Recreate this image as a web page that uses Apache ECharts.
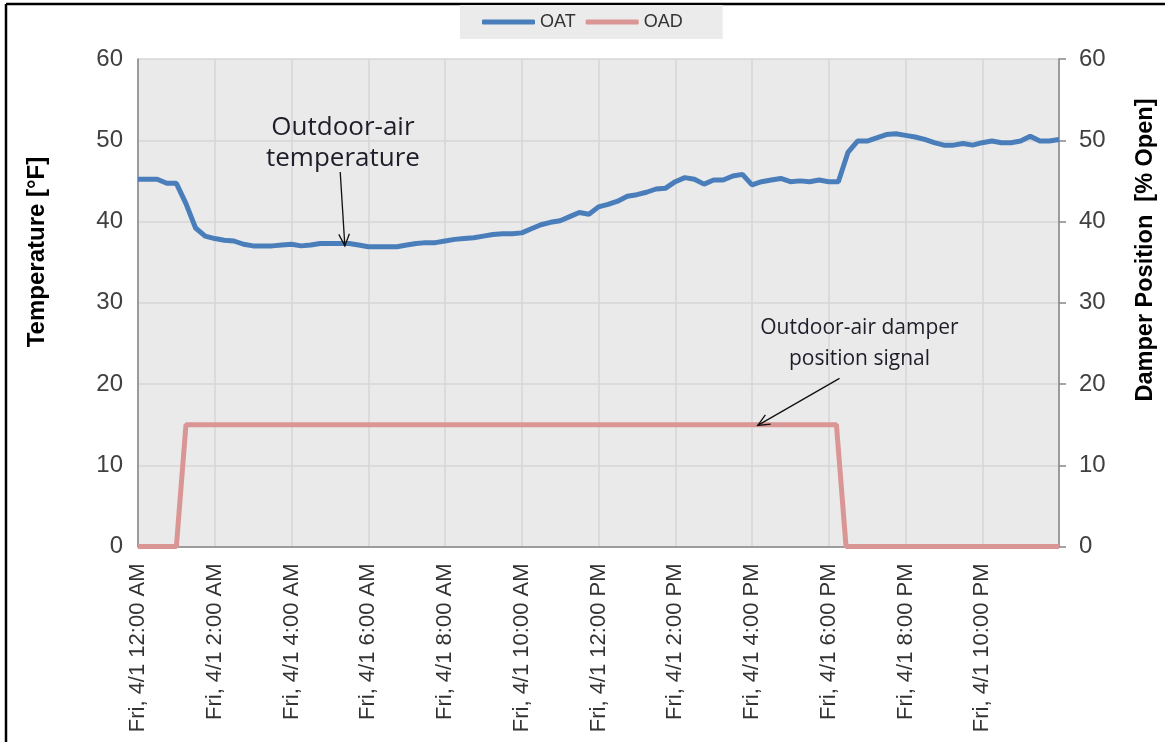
<!DOCTYPE html>
<html>
<head>
<meta charset="utf-8">
<script src="https://cdn.jsdelivr.net/npm/echarts@6/dist/echarts.min.js"></script>
<style>
  html, body { margin: 0; padding: 0; background: #fff; }
  #chart { width: 1165px; height: 742px; }
</style>
</head>
<body>
<div id="chart"></div>
<script>
// x tick labels, every 2 hours
var xLabels = [
  "Fri, 4/1 12:00 AM", "Fri, 4/1 2:00 AM", "Fri, 4/1 4:00 AM", "Fri, 4/1 6:00 AM",
  "Fri, 4/1 8:00 AM", "Fri, 4/1 10:00 AM", "Fri, 4/1 12:00 PM", "Fri, 4/1 2:00 PM",
  "Fri, 4/1 4:00 PM", "Fri, 4/1 6:00 PM", "Fri, 4/1 8:00 PM", "Fri, 4/1 10:00 PM"
];

// outdoor-air temperature, one reading every 15 minutes from 12:00 AM
var oat = [
  45.2, 45.2, 45.2, 44.7, 44.7, 42.2, 39.2, 38.2, 37.9, 37.7,
  37.6, 37.2, 37.0, 37.0, 37.0, 37.1, 37.2, 37.0, 37.1, 37.3,
  37.3, 37.3, 37.3, 37.1, 36.9, 36.9, 36.9, 36.9, 37.1, 37.3,
  37.4, 37.4, 37.6, 37.8, 37.9, 38.0, 38.2, 38.4, 38.5, 38.5,
  38.6, 39.1, 39.6, 39.9, 40.1, 40.6, 41.1, 40.9, 41.8, 42.1,
  42.5, 43.1, 43.3, 43.6, 44.0, 44.1, 44.9, 45.4, 45.2, 44.6,
  45.1, 45.1, 45.6, 45.8, 44.5, 44.9, 45.1, 45.3, 44.9, 45.0,
  44.9, 45.1, 44.9, 44.9, 48.5, 49.9, 49.9, 50.3, 50.7, 50.8,
  50.6, 50.4, 50.1, 49.7, 49.4, 49.4, 49.6, 49.4, 49.7, 49.9,
  49.7, 49.7, 49.9, 50.5, 49.9, 49.9, 50.1
];

// outdoor-air damper signal, breakpoints (hour, % open)
var oadHours = [0, 1.0, 1.25, 18.2, 18.45, 24];
var oadValues = [0, 0, 15, 15, 0, 0];

var oatData = oat.map(function (v, i) { return [i * 0.25, v]; });
var oadData = oadHours.map(function (h, i) { return [h, oadValues[i]]; });

var chart = echarts.init(document.getElementById("chart"));
var font = "'Liberation Sans', Arial, sans-serif";
var axisGray = "#868686";

var option = {
  backgroundColor: "#fff",
  animation: false,
  textStyle: { fontFamily: font },
  legend: {
    left: 460,
    top: 5,
    backgroundColor: "#EBEBEB",
    padding: [8, 40, 8, 22],
    itemWidth: 53,
    itemHeight: 5,
    itemGap: 10,
    icon: "roundRect",
    textStyle: { fontSize: 18, color: "#333", fontFamily: font },
    data: ["OAT", "OAD"]
  },
  grid: {
    left: 138, right: 106, top: 59, bottom: 195.5,
    show: true, backgroundColor: "#EAEAEA", borderWidth: 0
  },
  xAxis: {
    type: "value",
    min: 0, max: 24, interval: 2,
    axisLine: { lineStyle: { color: axisGray, width: 1.5 } },
    axisTick: { show: false },
    splitLine: { lineStyle: { color: "#D6D6D6", width: 1.5 } },
    axisLabel: {
      rotate: 90, fontSize: 22, color: "#333", margin: 17,
      formatter: function (v) { return xLabels[Math.round(v / 2)] || ""; }
    }
  },
  yAxis: [
    {
      type: "value", min: 0, max: 60, interval: 10,
      axisLine: { show: true, lineStyle: { color: axisGray, width: 1.5 } },
      axisTick: { show: false },
      splitLine: { lineStyle: { color: "#D6D6D6", width: 1.5 } },
      axisLabel: { fontSize: 24, color: "#404040", margin: 15 }
    },
    {
      type: "value", min: 0, max: 60, interval: 10, position: "right",
      axisLine: { show: true, lineStyle: { color: axisGray, width: 1.5 } },
      axisTick: { show: true, length: 7, lineStyle: { color: axisGray, width: 1.5 } },
      splitLine: { show: false },
      axisLabel: { fontSize: 24, color: "#404040", margin: 20 }
    }
  ],
  series: [
    {
      name: "OAT", type: "line", yAxisIndex: 0, data: oatData,
      symbol: "none", color: "#4A7EBB",
      lineStyle: { width: 5, color: "#4A7EBB" }
    },
    {
      name: "OAD", type: "line", yAxisIndex: 1, data: oadData,
      symbol: "none", color: "#DA9694",
      lineStyle: { width: 5, color: "#DA9694" }
    }
  ]
};
chart.setOption(option);

// annotations placed in data space
function px(h, v) {
  return chart.convertToPixel({ xAxisIndex: 0, yAxisIndex: 0 }, [h, v]);
}
function arrow(from, to) {
  var a = px(from[0], from[1]), b = px(to[0], to[1]);
  var ang = Math.atan2(b[1] - a[1], b[0] - a[0]);
  var L = 13, s = 0.42;
  var h1 = [b[0] - L * Math.cos(ang - s), b[1] - L * Math.sin(ang - s)];
  var h2 = [b[0] - L * Math.cos(ang + s), b[1] - L * Math.sin(ang + s)];
  return [
    { type: "line", shape: { x1: a[0], y1: a[1], x2: b[0], y2: b[1] },
      style: { stroke: "#111", lineWidth: 1.3 }, z: 100 },
    { type: "polyline", shape: { points: [h1, b, h2] },
      style: { stroke: "#111", lineWidth: 1.3, fill: null }, z: 100 }
  ];
}
function note(h, v, text, size) {
  var p = px(h, v);
  return {
    type: "text", x: p[0], y: p[1], z: 100,
    style: {
      text: text, fill: "#1E1E2A", align: "center", verticalAlign: "middle",
      font: size + "px 'Open Sans', sans-serif", lineHeight: 31
    }
  };
}

var graphics = [
  // frame
  { type: "line", shape: { x1: 6, y1: 4, x2: 1165, y2: 4 }, style: { stroke: "#000", lineWidth: 2.5 } },
  { type: "line", shape: { x1: 6, y1: 4, x2: 6, y2: 742 }, style: { stroke: "#000", lineWidth: 2.5 } },
  // axis titles
  { type: "text", x: 37, y: 252, rotation: Math.PI / 2,
    style: { text: "Temperature [°F]", fill: "#000", align: "center", verticalAlign: "middle",
      font: "bold 24px 'Liberation Sans', Arial, sans-serif" } },
  { type: "text", x: 1146, y: 250, rotation: Math.PI / 2,
    style: { text: "Damper Position  [% Open]", fill: "#000", align: "center", verticalAlign: "middle",
      font: "bold 23.5px 'Liberation Sans', Arial, sans-serif" } },
  note(5.34, 49.6, "Outdoor-air\ntemperature", 26),
  note(18.8, 25.0, "Outdoor-air damper\nposition signal", 21)
].concat(arrow([5.27, 46.1], [5.39, 37.0]), arrow([18.28, 20.7], [16.15, 14.9]));

chart.setOption({ graphic: graphics });
</script>
</body>
</html>
